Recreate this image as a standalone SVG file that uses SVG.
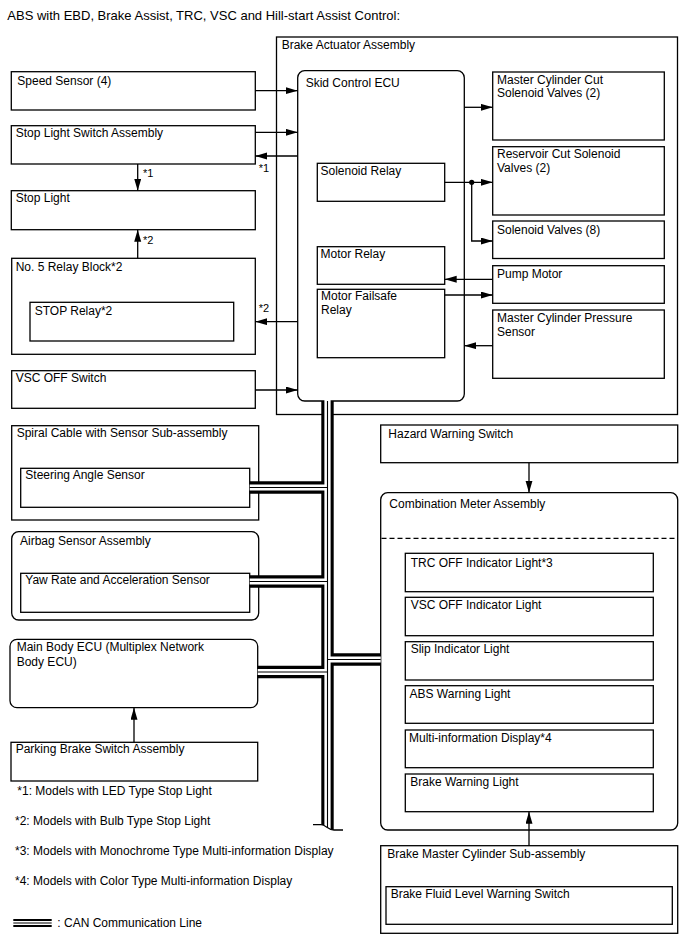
<svg xmlns="http://www.w3.org/2000/svg" width="688" height="949" viewBox="0 0 688 949">
<defs>
<style>
.b{fill:#fff;stroke:#000;stroke-width:1.3}
.t{font-family:"Liberation Sans",Arial,sans-serif;font-size:12px;fill:#000}
.c{fill:none;stroke:#000;stroke-width:1.3}
.busA{fill:none;stroke:#000;stroke-width:12.4;stroke-linejoin:miter}
.busB{fill:none;stroke:#fff;stroke-width:6.2;stroke-linejoin:miter}
.busC{fill:none;stroke:#000;stroke-width:1.1}
</style>
<marker id="ar" markerUnits="userSpaceOnUse" markerWidth="13" markerHeight="8" refX="12" refY="3.5" orient="auto">
<path d="M0,0 L12,3.5 L0,7 Z" fill="#000"/>
</marker>
</defs>
<rect width="688" height="949" fill="#fff"/>
<text class="t" x="7.3" y="19.5" style="font-size:13px">ABS with EBD, Brake Assist, TRC, VSC and Hill-start Assist Control:</text>

<g id="brake-actuator-assembly">
<rect class="b" x="276.5" y="37" width="401" height="377.5"/>
<text class="t" x="281.7" y="48.5">Brake Actuator Assembly</text>
</g>
<g id="skid-control-ecu">
<rect class="b" x="297.7" y="70.7" width="166.6" height="330.3" rx="7"/>
<text class="t" x="305.7" y="87.3">Skid Control ECU</text>
</g>
<g id="solenoid-relay">
<rect class="b" x="317.3" y="163.3" width="127.4" height="38"/>
<text class="t" x="320.5" y="174.5">Solenoid Relay</text>
</g>
<g id="motor-relay">
<rect class="b" x="317.3" y="246.7" width="127.4" height="37.6"/>
<text class="t" x="320.5" y="258.3">Motor Relay</text>
</g>
<g id="motor-failsafe-relay">
<rect class="b" x="317.3" y="289.3" width="127.4" height="68.4"/>
<text class="t" x="321" y="299.5">Motor Failsafe</text>
<text class="t" x="321" y="314">Relay</text>
</g>
<g id="master-cylinder-cut-solenoid-valves">
<rect class="b" x="492.7" y="72" width="171.6" height="68"/>
<text class="t" x="497" y="83.5">Master Cylinder Cut</text>
<text class="t" x="497" y="97">Solenoid Valves (2)</text>
</g>
<g id="reservoir-cut-solenoid-valves">
<rect class="b" x="492.7" y="146.7" width="171.6" height="68.3"/>
<text class="t" x="497" y="157.5">Reservoir Cut Solenoid</text>
<text class="t" x="497" y="171.5">Valves (2)</text>
</g>
<g id="solenoid-valves">
<rect class="b" x="492.7" y="221" width="171.6" height="37.5"/>
<text class="t" x="497" y="233.5">Solenoid Valves (8)</text>
</g>
<g id="pump-motor">
<rect class="b" x="492.7" y="265.7" width="171.6" height="37.6"/>
<text class="t" x="497" y="277.5">Pump Motor</text>
</g>
<g id="master-cylinder-pressure-sensor">
<rect class="b" x="492.7" y="310" width="171.6" height="68.3"/>
<text class="t" x="497" y="321.7">Master Cylinder Pressure</text>
<text class="t" x="497" y="336">Sensor</text>
</g>

<g id="speed-sensor">
<rect class="b" x="11.3" y="71.7" width="244" height="38.3"/>
<text class="t" x="17.3" y="84.5">Speed Sensor (4)</text>
</g>
<g id="stop-light-switch-assembly">
<rect class="b" x="11.3" y="125.7" width="244" height="38.3"/>
<text class="t" x="15.7" y="136.8">Stop Light Switch Assembly</text>
</g>
<g id="stop-light">
<rect class="b" x="11.3" y="190.7" width="244" height="39"/>
<text class="t" x="15.7" y="201.8">Stop Light</text>
</g>
<g id="no5-relay-block">
<rect class="b" x="11.7" y="258.3" width="243.6" height="96"/>
<text class="t" x="15.7" y="270.7">No. 5 Relay Block*2</text>
</g>
<g id="stop-relay">
<rect class="b" x="30" y="302.3" width="203.7" height="38.7"/>
<text class="t" x="34.7" y="315">STOP Relay*2</text>
</g>
<g id="vsc-off-switch">
<rect class="b" x="11.7" y="370.7" width="243.6" height="37.6"/>
<text class="t" x="15.7" y="381.8">VSC OFF Switch</text>
</g>
<g id="spiral-cable">
<rect class="b" x="11.7" y="425.7" width="247" height="94.3"/>
<text class="t" x="16.7" y="436.8">Spiral Cable with Sensor Sub-assembly</text>
</g>
<g id="steering-angle-sensor">
<rect class="b" x="20.7" y="468.3" width="229" height="39"/>
<text class="t" x="25.3" y="479.3">Steering Angle Sensor</text>
</g>
<g id="airbag-sensor-assembly">
<rect class="b" x="11.7" y="531.7" width="247" height="88.3" rx="7"/>
<text class="t" x="20" y="545">Airbag Sensor Assembly</text>
</g>
<g id="yaw-rate-sensor">
<rect class="b" x="20.7" y="573.3" width="229" height="39"/>
<text class="t" x="25.3" y="584">Yaw Rate and Acceleration Sensor</text>
</g>
<g id="main-body-ecu">
<rect class="b" x="10" y="639.3" width="247.7" height="68.4" rx="7"/>
<text class="t" x="16.7" y="650.7">Main Body ECU (Multiplex Network</text>
<text class="t" x="16.7" y="666">Body ECU)</text>
</g>
<g id="parking-brake-switch-assembly">
<rect class="b" x="11" y="742.3" width="246.7" height="38.7"/>
<text class="t" x="15.7" y="753.3">Parking Brake Switch Assembly</text>
</g>

<g id="hazard-warning-switch">
<rect class="b" x="380.7" y="425" width="297" height="37.7"/>
<text class="t" x="388.3" y="438.3">Hazard Warning Switch</text>
</g>
<g id="combination-meter-assembly">
<rect class="b" x="380.7" y="492.7" width="297" height="337.3" rx="7"/>
<text class="t" x="389.3" y="507.7">Combination Meter Assembly</text>
<line x1="381.5" y1="538.3" x2="677" y2="538.3" stroke="#000" stroke-width="1.2" stroke-dasharray="5,3"/>
</g>
<g id="trc-off-indicator-light">
<rect class="b" x="405.3" y="553.3" width="248" height="38.4"/>
<text class="t" x="410.7" y="566.7">TRC OFF Indicator Light*3</text>
</g>
<g id="vsc-off-indicator-light">
<rect class="b" x="405.3" y="597.3" width="248" height="38.4"/>
<text class="t" x="410.7" y="609.3">VSC OFF Indicator Light</text>
</g>
<g id="slip-indicator-light">
<rect class="b" x="405.3" y="641.7" width="248" height="38.3"/>
<text class="t" x="410.7" y="653.3">Slip Indicator Light</text>
</g>
<g id="abs-warning-light">
<rect class="b" x="405.3" y="685.7" width="248" height="37.6"/>
<text class="t" x="409.5" y="698.3">ABS Warning Light</text>
</g>
<g id="multi-information-display">
<rect class="b" x="405.3" y="730" width="248" height="37.7"/>
<text class="t" x="409" y="741.7">Multi-information Display*4</text>
</g>
<g id="brake-warning-light">
<rect class="b" x="405.3" y="774" width="248" height="37.7"/>
<text class="t" x="410.3" y="785.7">Brake Warning Light</text>
</g>
<g id="brake-master-cylinder">
<rect class="b" x="380.7" y="845.7" width="297" height="87.6"/>
<text class="t" x="387.3" y="858.3">Brake Master Cylinder Sub-assembly</text>
</g>
<g id="brake-fluid-level-warning-switch">
<rect class="b" x="386" y="886.7" width="286.3" height="37.6"/>
<text class="t" x="390.7" y="898.3">Brake Fluid Level Warning Switch</text>
</g>

<g id="connectors">
<line class="c" x1="255.3" y1="90.7" x2="297.7" y2="90.7" marker-end="url(#ar)"/>
<line class="c" x1="255.3" y1="132.3" x2="297.7" y2="132.3" marker-end="url(#ar)"/>
<line class="c" x1="297.7" y1="156" x2="255.3" y2="156" marker-end="url(#ar)"/>
<line class="c" x1="137.7" y1="164" x2="137.7" y2="190.7" marker-end="url(#ar)"/>
<line class="c" x1="137.7" y1="258.3" x2="137.7" y2="229.7" marker-end="url(#ar)"/>
<line class="c" x1="297.7" y1="321.7" x2="255.3" y2="321.7" marker-end="url(#ar)"/>
<line class="c" x1="255.3" y1="390" x2="297.7" y2="390" marker-end="url(#ar)"/>
<line class="c" x1="464.3" y1="107.3" x2="492.7" y2="107.3" marker-end="url(#ar)"/>
<line class="c" x1="444.7" y1="182.3" x2="492.7" y2="182.3" marker-end="url(#ar)"/>
<polyline class="c" points="471.7,182.3 471.7,241 492.7,241" marker-end="url(#ar)"/>
<circle cx="471.7" cy="182.3" r="2.6" fill="#000"/>
<line class="c" x1="492.7" y1="279.3" x2="444.7" y2="279.3" marker-end="url(#ar)"/>
<line class="c" x1="444.7" y1="295" x2="492.7" y2="295" marker-end="url(#ar)"/>
<line class="c" x1="492.7" y1="345.7" x2="464.3" y2="345.7" marker-end="url(#ar)"/>
<line class="c" x1="529" y1="462.7" x2="529" y2="492.7" marker-end="url(#ar)"/>
<line class="c" x1="529" y1="845.7" x2="529" y2="811.7" marker-end="url(#ar)"/>
<line class="c" x1="134" y1="742.3" x2="134" y2="707.7" marker-end="url(#ar)"/>
<text class="t" x="258.7" y="171.7" style="font-size:11px">*1</text>
<text class="t" x="143" y="176.5" style="font-size:11px">*1</text>
<text class="t" x="143" y="244" style="font-size:11px">*2</text>
<text class="t" x="258.7" y="312.3" style="font-size:11px">*2</text>
</g>

<g id="can-bus">
<path class="busA" d="M327.5,401 V831 M249.7,487.5 H327.5 M249.7,581.5 H327.5 M257.7,672 H327.5 M327.5,659.5 H380.7"/>
<path class="busB" d="M327.5,395 V831 M249.7,487.5 H327.5 M249.7,581.5 H327.5 M257.7,672 H327.5 M327.5,659.5 H380.7"/>
<path class="busC" d="M327.5,401 V831 M249.7,487.5 H327.5 M249.7,581.5 H327.5 M257.7,672 H327.5 M327.5,659.5 H380.7"/>
<path d="M316,824.7 L321,824.7 C326,824.7 328,830 334,830 L340,830 L340,836 L316,836 Z" fill="#fff"/>
<path d="M313,824.7 L321,824.7 C326,824.7 328,830 334,830 L343,830" fill="none" stroke="#000" stroke-width="1.3"/>
</g>

<g id="legend">
<text class="t" x="17.3" y="795">*1: Models with LED Type Stop Light</text>
<text class="t" x="15" y="825">*2: Models with Bulb Type Stop Light</text>
<text class="t" x="15" y="855">*3: Models with Monochrome Type Multi-information Display</text>
<text class="t" x="15" y="885">*4: Models with Color Type Multi-information Display</text>
<line x1="13.3" y1="920" x2="51.7" y2="920" stroke="#000" stroke-width="2"/>
<line x1="13.3" y1="923" x2="51.7" y2="923" stroke="#000" stroke-width="1"/>
<line x1="13.3" y1="926" x2="51.7" y2="926" stroke="#000" stroke-width="2"/>
<text class="t" x="57.3" y="926.5">: CAN Communication Line</text>
</g>
</svg>
